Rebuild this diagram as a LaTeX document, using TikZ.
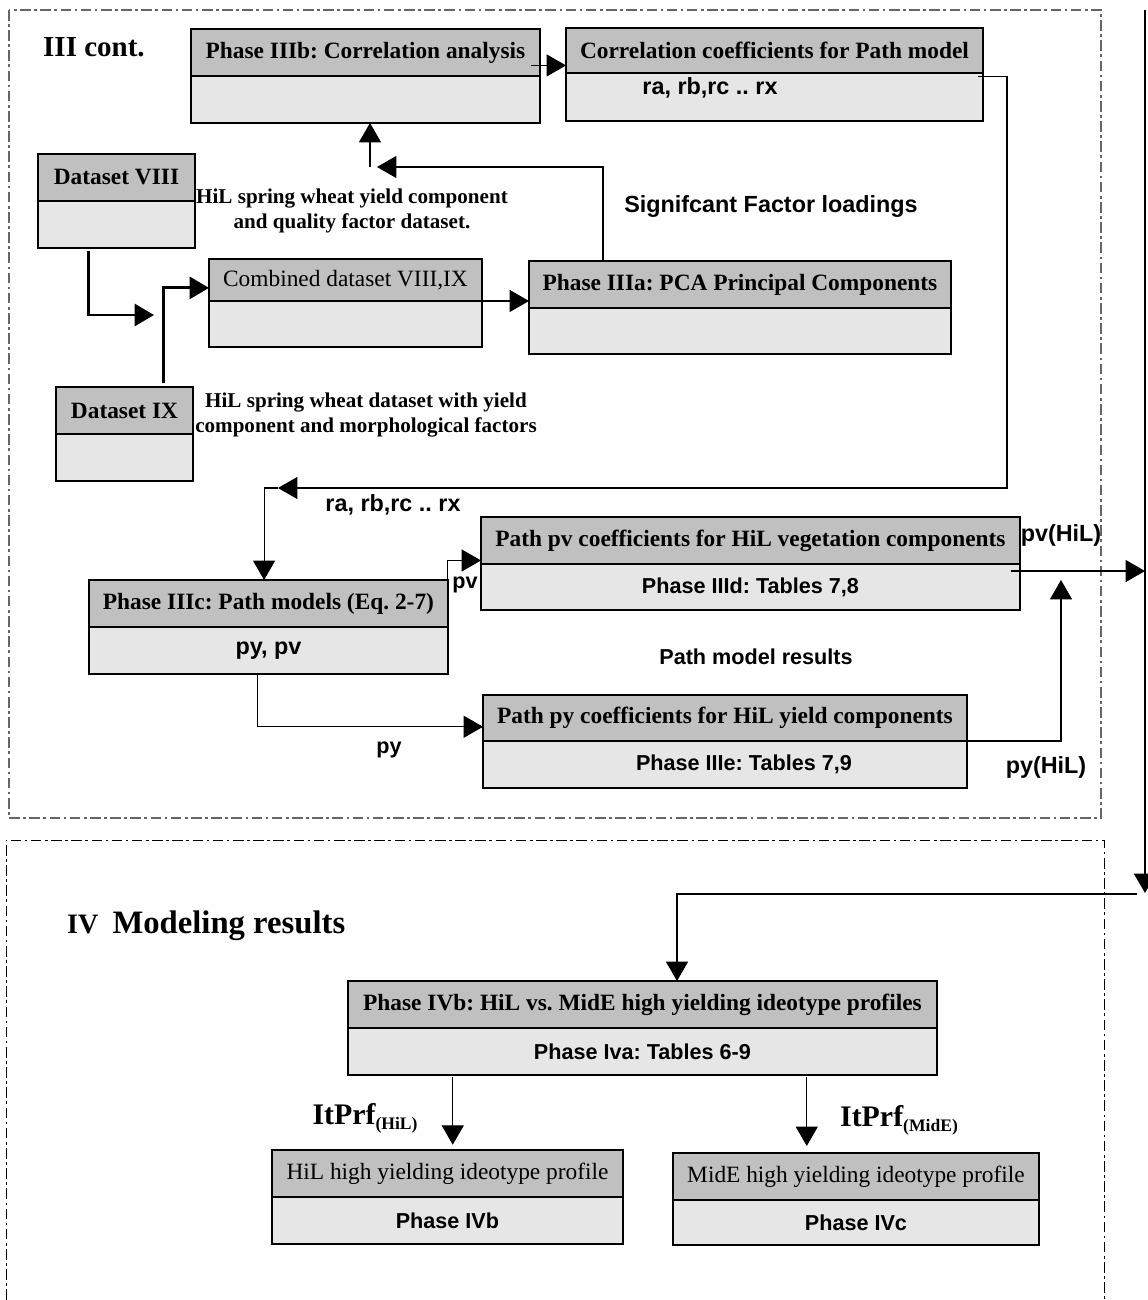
\documentclass[tikz,border=0pt]{standalone}
\usepackage{fontspec}
\setmainfont{Liberation Serif}
\setsansfont{Liberation Sans}
\usetikzlibrary{arrows.meta,positioning,calc}
\definecolor{boxhead}{HTML}{C0C0C0}
\definecolor{boxbody}{HTML}{E6E6E6}
\definecolor{framegray}{HTML}{666666}
\frenchspacing

\begin{document}
\begin{tikzpicture}[
  x=0.02cm, y=-0.02cm, >={Triangle[length=11pt,width=12.5pt]},
  head/.style={draw, line width=0.9pt, fill=boxhead, anchor=north west, outer sep=0pt, minimum height=0.94cm, inner sep=2pt, font=\fontsize{13.3}{16}\selectfont\bfseries},
  headplain/.style={head, font=\fontsize{13.3}{16}\selectfont},
  body/.style={draw, line width=0.9pt, fill=boxbody, outer sep=0pt, minimum height=0.94cm, inner sep=2pt, font=\sffamily\bfseries\fontsize{12.3}{15}\selectfont},
  note/.style={font=\fontsize{12}{14.7}\selectfont\bfseries, align=center},
  tag/.style={font=\sffamily\bfseries\fontsize{13.3}{16}\selectfont},
  smalltag/.style={font=\sffamily\bfseries\fontsize{12.3}{15}\selectfont},
  frame/.style={dash pattern=on 6pt off 2pt on 1.5pt off 2pt},
  wire/.style={line width=0.6pt, ->},
  fatwire/.style={line width=1.6pt, ->},
]
  \useasboundingbox (0,0) rectangle (1147,1300);
  \draw[frame, framegray, line width=0.8pt] (9,10) rectangle (1101,818);
  \draw[frame, line width=0.5pt] (6,1300) -- (6,840) -- (1104,840) -- (1104,1300);

  \node[font=\fontsize{16.5}{19}\selectfont\bfseries, anchor=base west] (tiii) at (37,57) {III cont.};

  \node[head, minimum width=6.98cm] (iiib) at (191,29) {Phase IIIb: Correlation analysis};
  \node[body, minimum width=6.98cm, below=0pt of iiib] (iiibb) {};
  \node[head, minimum width=8.34cm, minimum height=0.9cm] (corr) at (566,28) {Correlation coefficients for Path model};
  \node[body, minimum width=8.34cm, minimum height=0.96cm, below=0pt of corr] (corrb) {};
  \node[tag] (rxb) at (710,88) {ra, rb,rc .. rx};
  \node[head, minimum width=3.14cm] (dviii) at (38,154) {Dataset VIII};
  \node[body, minimum width=3.14cm, below=0pt of dviii] (dviiib) {};
  \node[headplain, minimum width=5.46cm, minimum height=0.84cm] (comb) at (209,259) {Combined dataset VIII,IX};
  \node[body, minimum width=5.46cm, minimum height=0.92cm, below=0pt of comb] (combb) {};
  \node[head, minimum width=8.44cm] (pca) at (529,261) {Phase IIIa: PCA Principal Components};
  \node[body, minimum width=8.44cm, minimum height=0.92cm, below=0pt of pca] (pcab) {};
  \node[head, minimum width=2.74cm] (dix) at (56,387) {Dataset IX};
  \node[body, minimum width=2.74cm, below=0pt of dix] (dixb) {};

  \node[note] (hilviii) at (352,211) {HiL spring wheat yield component\\and quality factor dataset.};
  \node[note] (hilix) at (366,415) {HiL spring wheat dataset with yield\\component and morphological factors};
  \node[tag] (sig) at (771,207) {Signifcant Factor loadings};

  \node[head, minimum width=7.18cm] (iiic) at (89,580) {Phase IIIc: Path models (Eq. 2-7)};
  \node[body, tag, draw, fill=boxbody, minimum width=7.18cm, below=0pt of iiic] (iiicb) {py, pv};
  \node[head, minimum width=10.78cm] (pv) at (481,517) {Path pv coefficients for HiL vegetation components};
  \node[body, minimum width=10.78cm, minimum height=0.92cm, below=0pt of pv] (pvb) {Phase IIId: Tables 7,8};
  \node[head, minimum width=9.68cm, minimum height=0.92cm] (py) at (483,695) {Path py coefficients for HiL yield components};
  \node[body, minimum width=9.68cm, below=0pt of py] (pyb) {\hspace{0.76cm}Phase IIIe: Tables 7,9};

  \node[tag] (rxa) at (393,505) {ra, rb,rc .. rx};
  \node[smalltag] (pvl) at (465,585) {pv};
  \node[tag] (pvh) at (1061,535) {pv(HiL)};
  \node[smalltag] (pmr) at (756,657) {Path model results};
  \node[smalltag] (pyl) at (389,750) {py};
  \node[tag] (pyh) at (1046,767) {py(HiL)};

  \node[font=\bfseries, anchor=base west] (ivtitle) at (61,933) {{\fontsize{16}{19}\selectfont IV}\hspace{8pt}{\fontsize{18.6}{22}\selectfont Modeling results}};
  \node[head, minimum width=11.78cm] (ivb) at (348,981) {Phase IVb: HiL vs. MidE high yielding ideotype profiles};
  \node[body, minimum width=11.78cm, below=0pt of ivb] (ivbb) {Phase Iva: Tables 6-9};
  \node[headplain, minimum width=7.02cm] (hil) at (272,1150) {HiL high yielding ideotype profile};
  \node[body, minimum width=7.02cm, below=0pt of hil] (hilb) {Phase IVb};
  \node[headplain, minimum width=7.32cm] (mide) at (673,1153) {MidE high yielding ideotype profile};
  \node[body, minimum width=7.32cm, minimum height=0.9cm, below=0pt of mide] (mideb) {Phase IVc};
  \node[font=\bfseries\fontsize{17}{20}\selectfont] (itphil) at (365,1118) {ItPrf\raisebox{-0.35ex}{\fontsize{10}{12}\selectfont(HiL)}};
  \node[font=\bfseries\fontsize{17}{20}\selectfont] (itpmide) at (899,1120) {ItPrf\raisebox{-0.35ex}{\fontsize{10}{12}\selectfont(MidE)}};

  \draw[wire] ([xshift=-5pt,yshift=6pt]iiib.south east) -- ([yshift=6pt]iiib.south east -| corr.west);
  \coordinate (rxturn) at (1007,488);
  \coordinate (rxtip) at (278,488);
  \draw[wire] ([xshift=-3pt,yshift=-2pt]corrb.north east) -| (rxturn) -- (rxtip);
  \draw[wire] (rxtip) -| ([xshift=-2.5pt]iiic.north);
  \coordinate (sigturn) at (603,167);
  \coordinate (sigtip) at (377,167);
  \draw[wire] (sigturn |- pca.north) -- (sigturn) -- (sigtip);
  \coordinate (upfoot) at (370,167);
  \draw[wire] (upfoot) -- (upfoot |- iiibb.south);
  \coordinate (viiiend) at (154,315);
  \draw[fatwire] ([xshift=-16pt,yshift=-2pt]dviiib.south) |- (viiiend);
  \draw[fatwire] ([xshift=22pt,yshift=2pt]dix.north) |- ([yshift=-4.5pt]comb.west);
  \draw[wire] ([xshift=-8pt]comb.south east) -- (comb.south east -| pca.west);
  \draw[wire] (iiic.north east) |- ([yshift=2pt]pv.south west);
  \draw[wire] ([xshift=-6pt]iiicb.south) |- ([yshift=-5pt]py.west);
  \coordinate (rtop) at (1145,10);
  \coordinate (rbot) at (1145,893);
  \draw[wire] ([xshift=-5pt,yshift=-4pt]pvb.north east) coordinate (pvout) -- (pvout -| rtop);
  \coordinate (pyup) at (1061,580);
  \draw[wire] ([xshift=-2pt]pyb.north east) -| (pyup);
  \draw[wire, line width=1pt] (rtop) -- (rbot);
  \coordinate (ivturn) at (677,894);
  \draw[wire] (rbot) ++(-8,1) -- (ivturn) -- (ivturn |- ivb.north);
  \draw[wire] ([xshift=3pt,yshift=-1pt]ivbb.south -| hil.north) -- ([xshift=3pt,yshift=3pt]hil.north);
  \draw[wire] ([xshift=-28pt,yshift=-1pt]ivbb.south -| mide.north) -- ([xshift=-28pt,yshift=4pt]mide.north);
\end{tikzpicture}
\end{document}
